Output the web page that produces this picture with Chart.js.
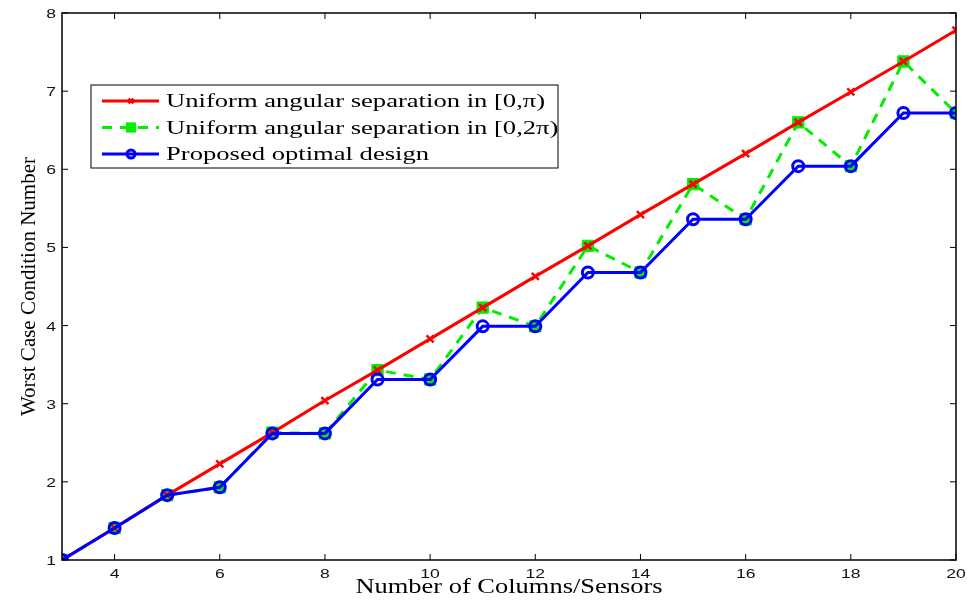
<!DOCTYPE html>
<html>
<head>
<meta charset="utf-8">
<script src="https://cdn.jsdelivr.net/npm/chart.js@4/dist/chart.umd.min.js"></script>
<style>
  html, body { margin: 0; padding: 0; background: #fff; }
  #wrap { width: 967px; height: 603px; }
</style>
</head>
<body>
<div id="wrap"><canvas id="myChart"></canvas></div>
<script>
var sensors = [3, 4, 5, 6, 7, 8, 9, 10, 11, 12, 13, 14, 15, 16, 17, 18, 19, 20];
var uniformPi = [1.0, 1.41, 1.83, 2.23, 2.63, 3.04, 3.43, 3.83, 4.23, 4.63, 5.02, 5.42, 5.81, 6.2, 6.6, 6.99, 7.38, 7.78];
var uniform2Pi = [1.0, 1.41, 1.83, 1.93, 2.63, 2.62, 3.43, 3.31, 4.23, 3.99, 5.02, 4.68, 5.81, 5.36, 6.6, 6.04, 7.38, 6.72];
var proposed = [1.0, 1.41, 1.83, 1.93, 2.62, 2.62, 3.31, 3.31, 3.99, 3.99, 4.68, 4.68, 5.36, 5.36, 6.04, 6.04, 6.72, 6.72];
var xTicks = [4, 6, 8, 10, 12, 14, 16, 18, 20];
var yTicks = [1, 2, 3, 4, 5, 6, 7, 8];
var seriesNames = ["Uniform angular separation in [0,\u03c0)", "Uniform angular separation in [0,2\u03c0)", "Proposed optimal design"];
var xTitle = 'Number of Columns/Sensors';
var yTitle = 'Worst Case Condition Number';

var SERIF = '"Liberation Serif", "Times New Roman", serif';
var SANS = '"Liberation Sans", Arial, sans-serif';

function pts(vals) {
  return sensors.map(function (s, i) { return { x: s, y: vals[i] }; });
}

// the original figure is stretched sideways, so text is drawn wider than normal
function wideText(c, txt, x, y, sx, align) {
  c.save();
  c.translate(x, y);
  c.scale(sx, 1);
  c.textAlign = align;
  c.fillText(txt, 0, 0);
  c.restore();
}

// box round the plot, inward ticks, tick labels and axis titles
var framePlugin = {
  id: 'frame',
  afterDraw: function (chart) {
    var c = chart.ctx, a = chart.chartArea;
    var xs = chart.scales.x, ys = chart.scales.y;
    c.save();
    c.strokeStyle = '#000';
    c.lineWidth = 1.5;
    c.strokeRect(a.left, a.top, a.right - a.left, a.bottom - a.top);
    c.lineWidth = 1;
    c.beginPath();
    xs.ticks.forEach(function (t) {
      var px = xs.getPixelForValue(t.value);
      c.moveTo(px, a.bottom); c.lineTo(px, a.bottom - 6);
      c.moveTo(px, a.top); c.lineTo(px, a.top + 6);
    });
    ys.ticks.forEach(function (t) {
      var py = ys.getPixelForValue(t.value);
      c.moveTo(a.left, py); c.lineTo(a.left + 6, py);
      c.moveTo(a.right, py); c.lineTo(a.right - 6, py);
    });
    c.stroke();

    c.fillStyle = '#111';
    c.font = '13.5px ' + SANS;
    c.textBaseline = 'alphabetic';
    xs.ticks.forEach(function (t) {
      wideText(c, String(t.value), xs.getPixelForValue(t.value), a.bottom + 18, 1.3, 'center');
    });
    ys.ticks.forEach(function (t) {
      wideText(c, String(t.value), a.left - 6, ys.getPixelForValue(t.value) + 5, 1.3, 'right');
    });

    c.fillStyle = '#000';
    c.font = '21px ' + SERIF;
    wideText(c, xTitle, (a.left + a.right) / 2, 593, 1.26, 'center');

    c.font = '21px ' + SERIF;
    c.save();
    c.translate(35, (a.top + a.bottom) / 2);
    c.rotate(-Math.PI / 2);
    c.textAlign = 'center';
    c.fillText(yTitle, 0, 0);
    c.restore();
    c.restore();
  }
};

// legend box drawn inside the plot
var boxLegend = {
  id: 'boxLegend',
  afterDraw: function (chart) {
    var c = chart.ctx, a = chart.chartArea;
    var x0 = a.left + 29, y0 = a.top + 72, w = 467, h = 83;
    c.save();
    c.fillStyle = '#fff';
    c.fillRect(x0, y0, w, h);
    c.strokeStyle = '#000';
    c.lineWidth = 1;
    c.strokeRect(x0, y0, w, h);
    c.font = '19px ' + SERIF;
    c.textBaseline = 'alphabetic';
    chart.data.datasets.forEach(function (ds, i) {
      var yy = y0 + 16 + i * 26.5;
      c.strokeStyle = ds.borderColor;
      c.lineWidth = ds.borderWidth;
      c.setLineDash(ds.borderDash || []);
      c.beginPath();
      c.moveTo(x0 + 11, yy);
      c.lineTo(x0 + 68, yy);
      c.stroke();
      c.setLineDash([]);
      c.strokeStyle = ds.pointBorderColor;
      c.fillStyle = ds.pointBackgroundColor;
      c.lineWidth = ds.pointBorderWidth;
      Chart.helpers.drawPoint(c, {
        pointStyle: ds.pointStyle,
        radius: ds.pointRadius - 1.5,
        borderWidth: ds.pointBorderWidth,
        rotation: 0
      }, x0 + 40, yy);
      c.fillStyle = '#000';
      wideText(c, ds.label, x0 + 75, yy + 6, 1.4, 'left');
    });
    c.restore();
  }
};

var ctx = document.getElementById('myChart').getContext('2d');
var myChart = new Chart(ctx, {
  type: 'line',
  data: {
    datasets: [{
      label: seriesNames[0],
      data: pts(uniformPi),
      borderColor: '#ff0000',
      borderWidth: 3,
      pointStyle: 'crossRot',
      pointRadius: 5,
      pointBackgroundColor: '#ff0000',
      pointBorderColor: '#ff0000',
      pointBorderWidth: 2.5,
      order: 1
    }, {
      label: seriesNames[1],
      data: pts(uniform2Pi),
      borderColor: '#00ee00',
      borderWidth: 3,
      borderDash: [10, 8],
      pointStyle: 'rect',
      pointRadius: 8,
      pointBackgroundColor: '#00ee00',
      pointBorderColor: '#00ee00',
      pointBorderWidth: 1,
      order: 2
    }, {
      label: seriesNames[2],
      data: pts(proposed),
      borderColor: '#0000ff',
      borderWidth: 3,
      pointStyle: 'circle',
      pointRadius: 5.5,
      pointBackgroundColor: 'rgba(0,0,0,0)',
      pointBorderColor: '#0000ff',
      pointBorderWidth: 3,
      order: 0
    }]
  },
  options: {
    responsive: true,
    maintainAspectRatio: false,
    animation: false,
    layout: { padding: { left: 0, right: 11, top: 13, bottom: 0 } },
    plugins: {
      legend: { display: false },
      tooltip: { enabled: false }
    },
    scales: {
      x: {
        type: 'linear',
        min: 3,
        max: 20,
        afterBuildTicks: function (s) { s.ticks = xTicks.map(function (v) { return { value: v }; }); },
        afterFit: function (s) { s.height = 43; },
        grid: { display: false, drawTicks: false },
        border: { display: false },
        ticks: { display: false }
      },
      y: {
        type: 'linear',
        min: 1,
        max: 8,
        afterBuildTicks: function (s) { s.ticks = yTicks.map(function (v) { return { value: v }; }); },
        afterFit: function (s) { s.width = 62; },
        grid: { display: false, drawTicks: false },
        border: { display: false },
        ticks: { display: false }
      }
    }
  },
  plugins: [framePlugin, boxLegend]
});
</script>
</body>
</html>
